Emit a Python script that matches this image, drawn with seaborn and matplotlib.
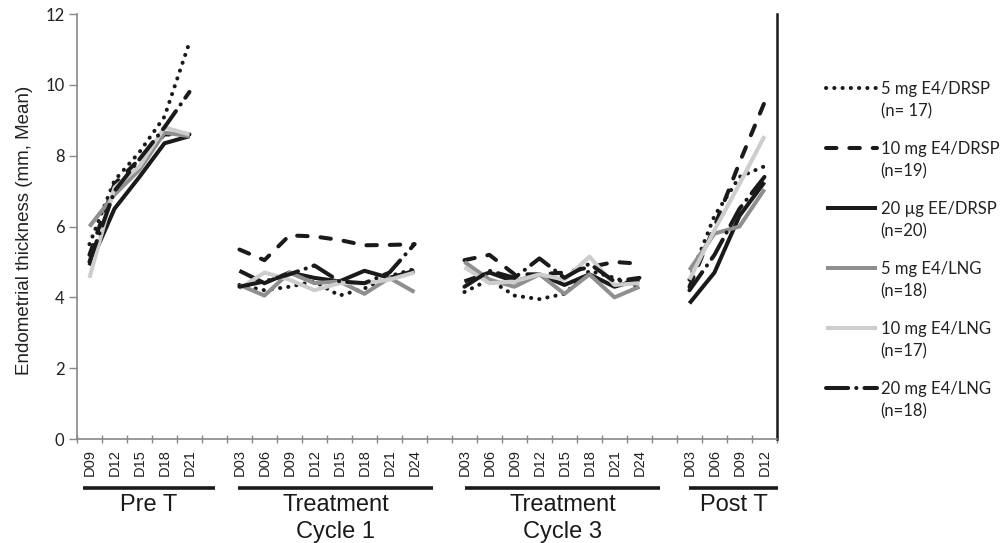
import numpy as np
import pandas as pd
import matplotlib
matplotlib.use("Agg")
import matplotlib.pyplot as plt
import seaborn as sns
from matplotlib.transforms import blended_transform_factory, ScaledTranslation

# ---------------- data ----------------
phases = ["Pre T", "Treatment\nCycle 1", "Treatment\nCycle 3", "Post T"]
pre_days = ["D09", "D12", "D15", "D18", "D21"]
cyc1_days = ["D03", "D06", "D09", "D12", "D15", "D18", "D21", "D24"]
cyc3_days = ["D03", "D06", "D09", "D12", "D15", "D18", "D21", "D24"]
post_days = ["D03", "D06", "D09", "D12"]
phase_days = [pre_days, cyc1_days, cyc3_days, post_days]

series_names = ["5 mg E4/DRSP", "10 mg E4/DRSP", "20 \u00b5g EE/DRSP",
                "5 mg E4/LNG", "10 mg E4/LNG", "20 mg E4/LNG"]
series_n = ["(n= 17)", "(n=19)", "(n=20)", "(n=18)", "(n=17)", "(n=18)"]

# values per series: Pre T (5) | Cycle 1 (8) | Cycle 3 (8) | Post T (4)
e4drsp_5 = [5.5, 7.3, 8.1, 9.1, 11.2,
            4.35, 4.2, 4.3, 4.45, 4.05, 4.25, 4.6, 4.8,
            4.15, 4.5, 4.05, 3.95, 4.1, 4.75, 4.55, 4.3,
            4.5, 6.3, 7.4, 7.7]
e4drsp_10 = [5.2, 7.2, 7.9, 8.6, 8.6,
             5.35, 5.05, 5.75, 5.72, 5.62, 5.47, 5.48, 5.5,
             5.05, 5.2, 4.65, 4.65, 4.7, 4.85, 5.0, 4.95,
             4.3, 6.0, 7.8, 9.5]
eedrsp_20 = [4.9, 6.5, 7.4, 8.35, 8.55,
             4.75, 4.4, 4.7, 4.55, 4.45, 4.75, 4.55, 4.75,
             4.45, 4.7, 4.45, 4.65, 4.35, 4.65, 4.3, 4.5,
             3.83, 4.7, 6.3, 7.25]
e4lng_5 = [6.0, 6.9, 7.6, 8.65, 8.55,
           4.35, 4.05, 4.7, 4.4, 4.45, 4.1, 4.55, 4.15,
           5.0, 4.5, 4.3, 4.65, 4.1, 4.65, 4.0, 4.3,
           4.77, 5.8, 6.0, 7.05]
e4lng_10 = [4.55, 7.1, 7.7, 8.8, 8.6,
            4.25, 4.7, 4.5, 4.2, 4.4, 4.4, 4.5, 4.7,
            4.85, 4.4, 4.45, 4.65, 4.5, 5.15, 4.35, 4.4,
            4.5, 5.9, 7.2, 8.55]
e4lng_20 = [5.0, 7.0, 7.9, 8.8, 9.8,
            4.3, 4.45, 4.65, 4.9, 4.45, 4.4, 4.7, 5.5,
            4.3, 4.75, 4.55, 5.1, 4.55, 4.95, 4.45, 4.55,
            4.2, 5.2, 6.5, 7.4]
series_values = [e4drsp_5, e4drsp_10, eedrsp_20, e4lng_5, e4lng_10, e4lng_20]

# ---------------- styling ----------------
colors = ["#1a1a1a", "#1a1a1a", "#1a1a1a", "#8f8f8f", "#cdcdcd", "#1a1a1a"]
dash_styles = [(0.05, 2.0), (2.6, 3.2), "", "", "", (5.5, 2.0, 0.05, 2.0)]
palette = dict(zip(series_names, colors))
dash_map = dict(zip(series_names, dash_styles))

# build long-form table; a one-slot gap separates the phases
rows = []
tick_pos, tick_lab = [], []
pos = 0
for p_idx, (ph, days) in enumerate(zip(phases, phase_days)):
    start = sum(len(d) for d in phase_days[:p_idx])
    for d_idx, day in enumerate(days):
        tick_pos.append(pos)
        tick_lab.append(day)
        for s_name, vals in zip(series_names, series_values):
            rows.append({"series": s_name, "phase": ph, "pos": pos,
                         "value": vals[start + d_idx]})
        pos += 1
    pos += 1
df = pd.DataFrame(rows)

sns.set_style("white")
plt.rcParams["font.family"] = ["Liberation Sans", "DejaVu Sans"]

fig = plt.figure(figsize=(10.02, 5.43), dpi=100)
ax = fig.add_axes([0.0768, 0.1915, 0.6986, 0.7827])

for k, ph in enumerate(phases):
    sub = df[df["phase"] == ph]
    sns.lineplot(data=sub, x="pos", y="value", hue="series", style="series",
                 hue_order=series_names, style_order=series_names,
                 palette=palette, dashes=dash_map, linewidth=2.9,
                 dash_capstyle="round", solid_capstyle="butt",
                 legend=(k == 0), ax=ax, sort=False)

# axes
ax.set_xlim(-0.5, pos - 1.5)
ax.set_ylim(0, 12)
ax.set_yticks(np.arange(0, 13, 2))
ax.set_xticks(tick_pos)
ax.set_xticklabels(tick_lab, rotation=90, fontsize=10.5, color="#222222")
off = ScaledTranslation(4 / 100, 0, fig.dpi_scale_trans)
for lab in ax.get_xticklabels():
    lab.set_transform(lab.get_transform() + off)
ax.set_xticks(np.arange(-0.5, pos - 1.0, 1.0), minor=True)
ax.tick_params(axis="x", which="major", length=0, pad=7)
ax.tick_params(axis="x", which="minor", length=6, width=1, color="#888888",
               direction="inout", bottom=True)
ax.tick_params(axis="y", which="major", length=6, width=1, color="#888888",
               direction="out", left=True, labelsize=12, pad=3,
               labelcolor="#222222")
for lab in ax.get_yticklabels():
    lab.set_family(["Lato", "DejaVu Sans"])
ax.set_xlabel("")
ax.set_ylabel("Endometrial thickness (mm, Mean)", fontsize=13.5, color="#222222")
ax.yaxis.set_label_coords(-0.063, 0.49)

for side in ["left", "bottom"]:
    ax.spines[side].set_color("#888888")
    ax.spines[side].set_linewidth(1.2)
ax.spines["top"].set_visible(False)
ax.spines["right"].set_color("#1a1a1a")
ax.spines["right"].set_linewidth(1.8)

# legend
handles, labels = ax.get_legend_handles_labels()
leg = ax.legend(handles, labels, loc="upper left",
                bbox_to_anchor=(0.824, 0.851), bbox_transform=fig.transFigure,
                frameon=False, borderpad=0, borderaxespad=0,
                handlelength=3.1, handletextpad=0.2, labelspacing=2.64,
                prop={"family": ["Lato", "DejaVu Sans"], "size": 12})
for h in leg.legend_handles:
    h.set_linewidth(2.9)
for txt, n_lab in zip(leg.get_texts(), series_n):
    txt.set_color("#222222")
    ax.annotate(n_lab, xy=(0, 0), xycoords=txt, xytext=(0, -4.5),
                textcoords="offset points", va="top", ha="left",
                fontsize=12, family=["Lato", "DejaVu Sans"], color="#222222",
                annotation_clip=False, zorder=10)

# phase group bars and labels below the axis
bt = blended_transform_factory(ax.transData, fig.transFigure)
group_spans = [(-0.25, 5.02), (5.95, 13.75), (15.02, 22.82), (23.99, 27.55)]
for (x0, x1), ph in zip(group_spans, phases):
    ax.plot([x0, x1], [0.1013, 0.1013], transform=bt, color="#1a1a1a",
            lw=2.6, clip_on=False, solid_capstyle="butt")
    ax.text((x0 + x1) / 2, 0.0905, ph, transform=bt, ha="center", va="top",
            fontsize=17, linespacing=1.32, color="#1a1a1a")

fig.savefig("out.png", dpi=100)
